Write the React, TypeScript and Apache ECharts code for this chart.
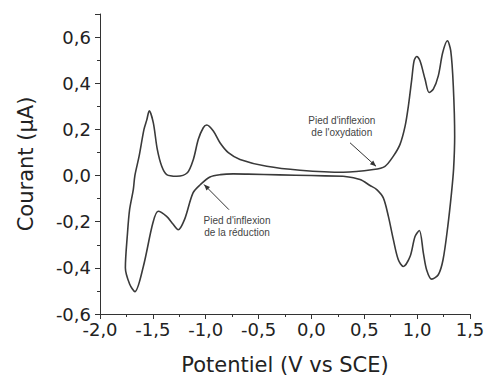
import React, { useEffect, useRef } from "react";
import * as echarts from "echarts";

// Cyclic voltammogram, traced as one closed loop (potential V, current µA)
const potential: number[] = [
  0.30, 0.0, -0.3, -0.6, -0.74, -0.86, -0.96, -1.05, -1.12, -1.2, -1.26, -1.31, -1.37, -1.45, -1.5, -1.59, -1.67, -1.72, -1.76,
  -1.74, -1.72, -1.685, -1.67, -1.63, -1.584, -1.558, -1.534, -1.496, -1.458, -1.416, -1.369, -1.274, -1.174, -1.117, -1.07, -1.023, -0.99, -0.928, -0.865, -0.786, -0.676, -0.423, -0.108, 0.302,
  0.586, 0.696, 0.775, 0.838, 0.886, 0.917, 0.949, 0.971, 0.996, 1.027, 1.075, 1.113, 1.153, 1.2, 1.242, 1.286, 1.318, 1.342, 1.355, 1.345,
  1.325, 1.29, 1.245, 1.2, 1.138, 1.09, 1.059, 1.021, 0.98, 0.933, 0.869, 0.822, 0.775, 0.728, 0.68, 0.618, 0.554, 0.46, 0.30,
];
const current: number[] = [
  -0.003, 0.0, 0.003, 0.006, 0.007, 0.004, -0.006, -0.039, -0.075, -0.19, -0.235, -0.21, -0.177, -0.155, -0.206, -0.394, -0.503, -0.47, -0.40,
  -0.25, -0.148, -0.061, 0.0, 0.084, 0.2, 0.24, 0.28, 0.229, 0.113, 0.04, 0.004, -0.003, 0.012, 0.07, 0.157, 0.207, 0.219, 0.193, 0.142, 0.099, 0.07, 0.04, 0.023, 0.014,
  0.026, 0.04, 0.084, 0.135, 0.214, 0.301, 0.417, 0.497, 0.516, 0.497, 0.417, 0.36, 0.374, 0.432, 0.533, 0.584, 0.54, 0.388, 0.17, 0.03,
  -0.075, -0.22, -0.365, -0.43, -0.449, -0.409, -0.336, -0.238, -0.264, -0.351, -0.394, -0.365, -0.278, -0.177, -0.097, -0.061, -0.043, -0.017, -0.003,
];

const xAxisName = "Potentiel (V vs SCE)";
const yAxisName = "Courant (μA)";

// Annotations in data coordinates
const annotationTexts: string[] = ["Pied d'inflexion\nde l'oxydation", "Pied d'inflexion\nde la réduction"];
const annotationTextPos: number[][] = [[0.287, 0.211], [-0.704, -0.222]];
const arrowTail: number[][] = [[0.365, 0.142], [-0.78, -0.148]];
const arrowTip: number[][] = [[0.611, 0.04], [-1.016, -0.039]];

const fmt = (v: number) => {
  if (Math.abs(v) < 1e-9) v = 0;
  return v.toFixed(1).replace(".", ",");
};

export default function App() {
  const ref = useRef<HTMLDivElement>(null);
  useEffect(() => {
    if (!ref.current) return;
    const chart = echarts.init(ref.current, undefined, { renderer: "svg" });
    const data = potential.map((p, i) => [p, current[i]]);
    const font = "DejaVu Sans";
    chart.setOption({
      animation: false,
      backgroundColor: "#ffffff",
      grid: { left: 100, right: 18, top: 14, bottom: 62, outerBoundsMode: "none", containLabel: false },
      xAxis: {
        type: "value",
        min: -2,
        max: 1.5,
        interval: 0.5,
        name: xAxisName,
        nameLocation: "middle",
        nameGap: 40,
        nameTextStyle: { fontFamily: font, fontSize: 21, color: "#222" },
        axisLine: { show: true, onZero: false, lineStyle: { color: "#333", width: 1 } },
        axisTick: { show: true, length: 5, lineStyle: { color: "#333" } },
        minorTick: { show: true, splitNumber: 2, length: 3, lineStyle: { color: "#333" } },
        splitLine: { show: false },
        axisLabel: { fontFamily: font, fontSize: 18, color: "#222", margin: 6, formatter: fmt },
      },
      yAxis: {
        type: "value",
        min: -0.6,
        max: 0.7,
        interval: 0.2,
        name: yAxisName,
        nameLocation: "middle",
        nameRotate: 90,
        nameGap: 64,
        nameTextStyle: { fontFamily: font, fontSize: 21, color: "#222" },
        axisLine: { show: true, onZero: false, lineStyle: { color: "#333", width: 1 } },
        axisTick: { show: true, length: 5, lineStyle: { color: "#333" } },
        minorTick: { show: true, splitNumber: 2, length: 3, lineStyle: { color: "#333" } },
        splitLine: { show: false },
        axisLabel: {
          fontFamily: font,
          fontSize: 18,
          color: "#222",
          margin: 9,
          formatter: (v: number) => (Math.abs(v - 0.7) < 1e-6 ? "" : fmt(v)),
        },
      },
      series: [
        {
          type: "line",
          data,
          showSymbol: false,
          smooth: 0.3,
          lineStyle: { color: "#3a3a3a", width: 1.6 },
        },
      ],
    });

    const px = (p: number[]) => chart.convertToPixel({ gridIndex: 0 }, p) as number[];
    const graphics: any[] = [];
    annotationTexts.forEach((t, i) => {
      const c = px(annotationTextPos[i]);
      graphics.push({
        type: "text",
        x: c[0],
        y: c[1],
        style: {
          text: t,
          fontFamily: "Liberation Sans",
          fontSize: 10,
          fill: "#444",
          align: "center",
          verticalAlign: "middle",
          lineHeight: 12,
        },
      });
      const a = px(arrowTail[i]);
      const b = px(arrowTip[i]);
      graphics.push({
        type: "line",
        shape: { x1: a[0], y1: a[1], x2: b[0], y2: b[1] },
        style: { stroke: "#333", lineWidth: 1 },
      });
      const ang = Math.atan2(b[1] - a[1], b[0] - a[0]);
      const L = 6;
      const W = 2.5;
      const bx = b[0] - L * Math.cos(ang);
      const by = b[1] - L * Math.sin(ang);
      graphics.push({
        type: "polygon",
        shape: {
          points: [
            [b[0], b[1]],
            [bx + W * Math.sin(ang), by - W * Math.cos(ang)],
            [bx - W * Math.sin(ang), by + W * Math.cos(ang)],
          ],
        },
        style: { fill: "#333" },
      });
    });
    chart.setOption({ graphic: graphics });

    return () => chart.dispose();
  }, []);
  return (
    <div
      ref={ref}
      style={{ position: "fixed", left: 0, top: 0, width: 488, height: 376 }}
    />
  );
}
